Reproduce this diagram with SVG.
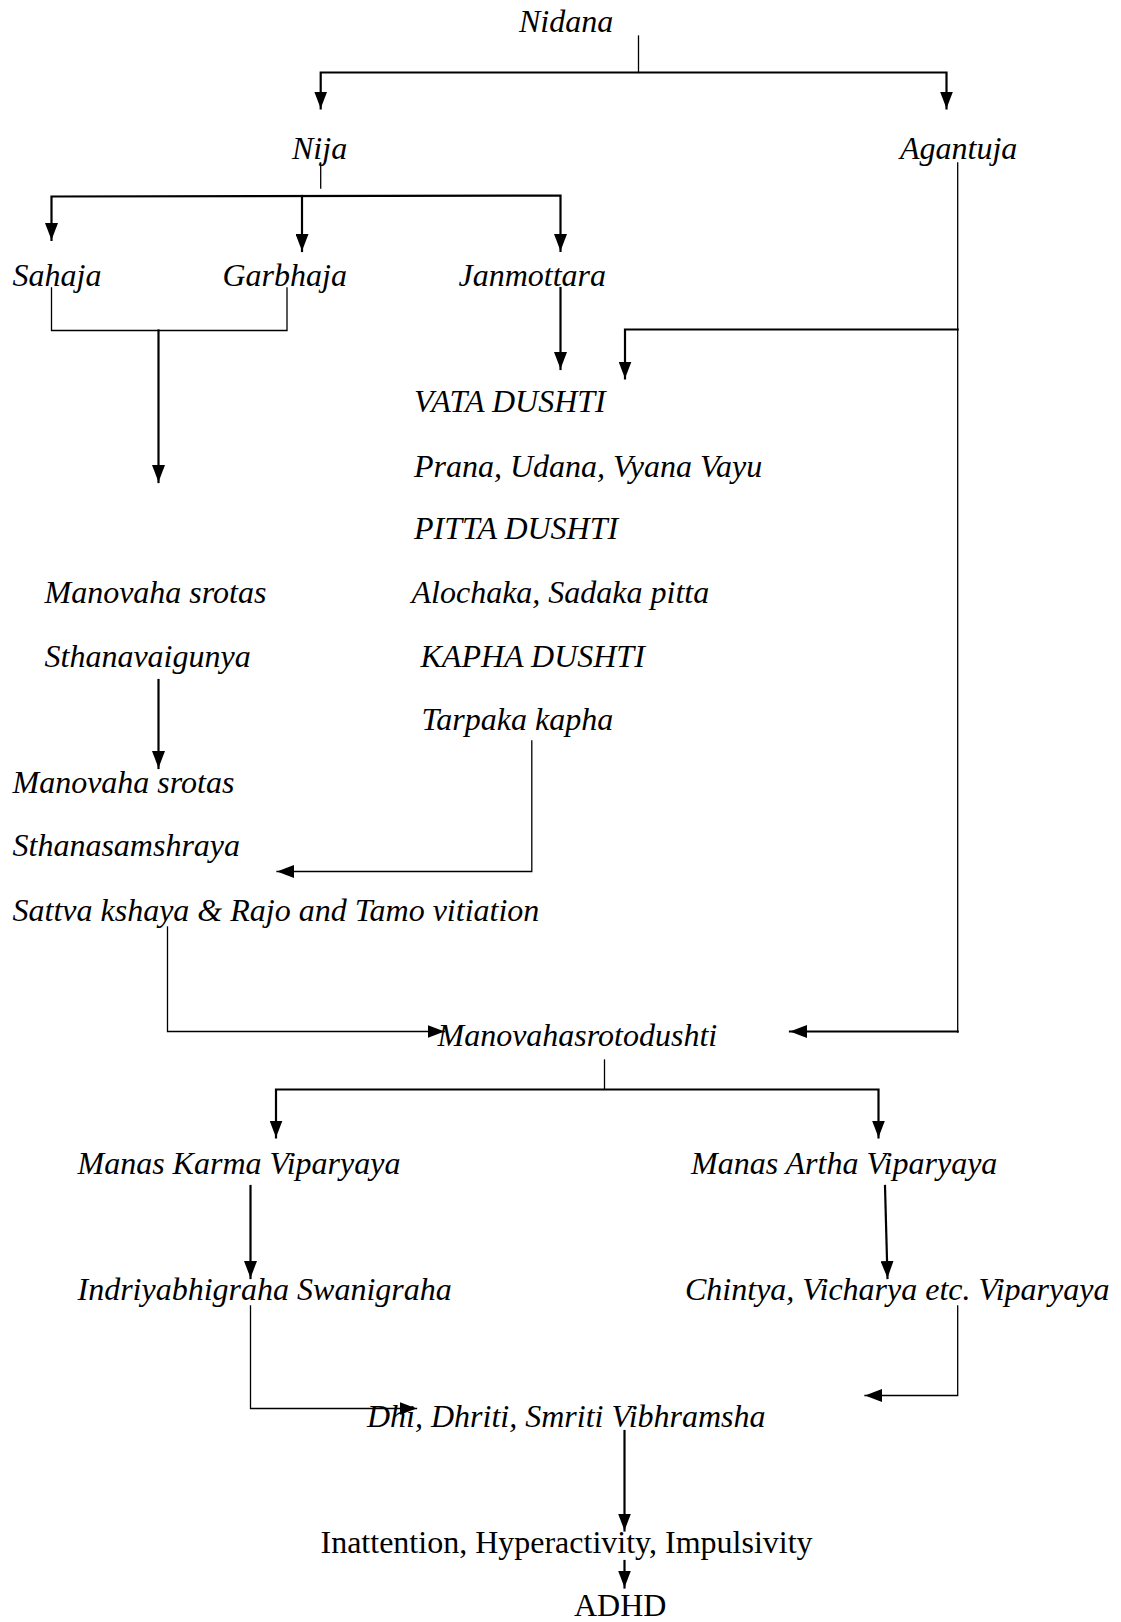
<svg xmlns="http://www.w3.org/2000/svg" width="1121" height="1622" viewBox="0 0 1121 1622">
<style>
text{font-family:"Liberation Serif","Times New Roman",serif;font-size:32px;fill:#000}
.i{font-style:italic}
.c line,.c polyline{stroke:#000;fill:none;stroke-linecap:square}
.t{stroke-width:1.3}
.k{stroke-width:2.2}
</style>
<defs>
<marker id="ah" viewBox="0 0 17 13" refX="17" refY="6.5" markerWidth="17" markerHeight="13" markerUnits="userSpaceOnUse" orient="auto-start-reverse">
<path d="M0,0 L17,6.5 L0,13 Z" fill="#000"/>
</marker>
</defs>
<rect width="1121" height="1622" fill="#fff"/>
<g id="connectors" class="c">
<line class="t" x1="638.5" y1="36" x2="638.5" y2="72.5"/>
<polyline class="k" points="320.7,108.5 320.7,72.5 946.5,72.5 946.5,108.5" marker-start="url(#ah)" marker-end="url(#ah)"/>
<line class="t" x1="320.7" y1="163" x2="320.7" y2="188"/>
<polyline class="k" points="51.5,240 51.5,196.5 560.5,195.5 560.5,251" marker-start="url(#ah)" marker-end="url(#ah)"/>
<line class="k" x1="302" y1="196" x2="302" y2="251" marker-end="url(#ah)"/>
<polyline class="t" points="51.5,288 51.5,330.5 287,330.5 287,288"/>
<line class="k" x1="158.5" y1="330.5" x2="158.5" y2="482" marker-end="url(#ah)"/>
<line class="k" x1="560.5" y1="288" x2="560.5" y2="369" marker-end="url(#ah)"/>
<line class="t" x1="957.7" y1="163" x2="957.7" y2="1032"/>
<polyline class="k" points="957.7,329.5 625,329.5 625,378.5" marker-end="url(#ah)"/>
<line class="k" x1="957.7" y1="1031.5" x2="790" y2="1031.5" marker-end="url(#ah)"/>
<line class="k" x1="158.5" y1="680" x2="158.5" y2="768" marker-end="url(#ah)"/>
<polyline class="t" points="531.8,741 531.8,871.5 277,871.5" marker-end="url(#ah)"/>
<polyline class="t" points="167.5,927 167.5,1031.5 444.5,1031.5" marker-end="url(#ah)"/>
<line class="t" x1="604.5" y1="1060" x2="604.5" y2="1089.5"/>
<polyline class="k" points="276,1137.5 276,1089.5 878.5,1089.5 878.5,1137.5" marker-start="url(#ah)" marker-end="url(#ah)"/>
<line class="k" x1="250.5" y1="1186" x2="250.5" y2="1278" marker-end="url(#ah)"/>
<line class="k" x1="885" y1="1186" x2="887.5" y2="1278" marker-end="url(#ah)"/>
<polyline class="t" points="250.5,1306 250.5,1408.5 416.5,1408.5" marker-end="url(#ah)"/>
<polyline class="t" points="957.7,1306 957.7,1395.5 865,1395.5" marker-end="url(#ah)"/>
<line class="k" x1="624.5" y1="1431" x2="624.5" y2="1530.5" marker-end="url(#ah)"/>
<line class="k" x1="624.5" y1="1561" x2="624.5" y2="1587.5" marker-end="url(#ah)"/>
</g>
<g id="n-nidana"><text class="i" x="519" y="32">Nidana</text></g>
<g id="n-nija"><text class="i" x="292" y="159">Nija</text></g>
<g id="n-agantuja"><text class="i" x="900" y="159">Agantuja</text></g>
<g id="n-sahaja"><text class="i" x="12.5" y="286">Sahaja</text></g>
<g id="n-garbhaja"><text class="i" x="222.5" y="286">Garbhaja</text></g>
<g id="n-janmottara"><text class="i" x="458.5" y="286">Janmottara</text></g>
<g id="n-dosha">
<text class="i" x="414" y="412">VATA DUSHTI</text>
<text class="i" x="414" y="477">Prana, Udana, Vyana Vayu</text>
<text class="i" x="414" y="539">PITTA DUSHTI</text>
<text class="i" x="411.5" y="603">Alochaka, Sadaka pitta</text>
<text class="i" x="420.5" y="667">KAPHA DUSHTI</text>
<text class="i" x="421.5" y="730">Tarpaka kapha</text>
</g>
<g id="n-sthanavaigunya">
<text class="i" x="44.5" y="603">Manovaha srotas</text>
<text class="i" x="44.5" y="667">Sthanavaigunya</text>
</g>
<g id="n-sthanasamshraya">
<text class="i" x="12.5" y="793">Manovaha srotas</text>
<text class="i" x="12.5" y="856">Sthanasamshraya</text>
<text class="i" x="12.5" y="921">Sattva kshaya &amp; Rajo and Tamo vitiation</text>
</g>
<g id="n-manovahasrotodushti"><text class="i" x="437.5" y="1046">Manovahasrotodushti</text></g>
<g id="n-karma"><text class="i" x="77.5" y="1174">Manas Karma Viparyaya</text></g>
<g id="n-artha"><text class="i" x="691" y="1174">Manas Artha Viparyaya</text></g>
<g id="n-indriya"><text class="i" x="77.5" y="1300">Indriyabhigraha Swanigraha</text></g>
<g id="n-chintya"><text class="i" x="685" y="1300">Chintya, Vicharya etc. Viparyaya</text></g>
<g id="n-dhi"><text class="i" x="367" y="1427">Dhi, Dhriti, Smriti Vibhramsha</text></g>
<g id="n-symptoms"><text x="320.5" y="1553">Inattention, Hyperactivity, Impulsivity</text></g>
<g id="n-adhd"><text x="574" y="1616">ADHD</text></g>
</svg>
